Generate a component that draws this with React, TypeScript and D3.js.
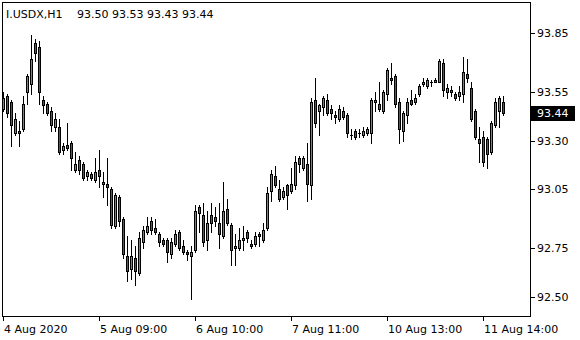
import React from "react";
import * as d3 from "d3";

const symbolTitle = "I.USDX,H1";
const ohlcTitle = "93.50 93.53 93.43 93.44";

const opens = [
  93.46, 93.53, 93.50, 93.34, 93.35, 93.36, 93.55, 93.59, 93.80, 93.78,
  93.51, 93.49, 93.45, 93.37, 93.37, 93.25, 93.28, 93.29, 93.15, 93.20,
  93.18, 93.12, 93.13, 93.10, 93.15, 93.08, 93.08, 93.05, 92.86, 93.01,
  92.90, 92.71, 92.64, 92.70, 92.62, 92.78, 92.83, 92.89, 92.85, 92.82,
  92.79, 92.79, 92.72, 92.77, 92.83, 92.76, 92.73, 92.71, 92.74, 92.96,
  92.92, 92.79, 92.92, 92.91, 92.88, 92.81, 92.95, 92.87, 92.75, 92.75,
  92.79, 92.83, 92.77, 92.77, 92.82, 92.79, 92.85, 93.04, 93.12, 93.05,
  93.01, 93.07, 93.04, 93.07, 93.21, 93.16, 93.18, 93.07, 93.51, 93.45,
  93.47, 93.51, 93.46, 93.43, 93.41, 93.45, 93.43, 93.33, 93.35, 93.34,
  93.33, 93.34, 93.34, 93.50, 93.49, 93.45, 93.54, 93.62, 93.63, 93.50,
  93.35, 93.43, 93.51, 93.50, 93.54, 93.59, 93.58, 93.60, 93.60, 93.60,
  93.70, 93.55, 93.56, 93.54, 93.53, 93.54, 93.64, 93.57, 93.45, 93.31,
  93.32, 93.31, 93.24, 93.38, 93.45, 93.50,
];
const highs = [
  93.55, 93.54, 93.51, 93.44, 93.40, 93.53, 93.64, 93.84, 93.82, 93.81,
  93.53, 93.50, 93.47, 93.44, 93.41, 93.29, 93.39, 93.30, 93.24, 93.22,
  93.19, 93.15, 93.14, 93.21, 93.25, 93.14, 93.21, 93.06, 93.03, 93.02,
  92.91, 92.81, 92.79, 92.76, 92.83, 92.86, 92.91, 92.91, 92.90, 92.83,
  92.80, 92.80, 92.80, 92.84, 92.84, 92.79, 92.74, 92.76, 92.97, 92.97,
  92.98, 92.94, 92.98, 92.96, 92.98, 93.09, 93.00, 92.88, 92.82, 92.85,
  92.86, 92.84, 92.79, 92.83, 92.83, 92.88, 93.06, 93.15, 93.17, 93.10,
  93.06, 93.08, 93.16, 93.22, 93.22, 93.22, 93.29, 93.52, 93.62, 93.49,
  93.53, 93.54, 93.48, 93.45, 93.48, 93.47, 93.44, 93.36, 93.36, 93.36,
  93.37, 93.37, 93.52, 93.55, 93.60, 93.56, 93.67, 93.70, 93.64, 93.52,
  93.45, 93.52, 93.56, 93.54, 93.59, 93.62, 93.62, 93.61, 93.62, 93.72,
  93.72, 93.59, 93.58, 93.55, 93.58, 93.73, 93.72, 93.60, 93.46, 93.37,
  93.35, 93.32, 93.40, 93.52, 93.53, 93.53,
];
const lows = [
  93.45, 93.42, 93.27, 93.33, 93.27, 93.35, 93.49, 93.54, 93.71, 93.49,
  93.44, 93.43, 93.35, 93.35, 93.23, 93.23, 93.25, 93.15, 93.14, 93.13,
  93.10, 93.10, 93.10, 93.09, 93.06, 93.01, 92.97, 92.85, 92.85, 92.86,
  92.70, 92.58, 92.59, 92.56, 92.61, 92.75, 92.82, 92.82, 92.82, 92.76,
  92.76, 92.68, 92.70, 92.76, 92.74, 92.72, 92.69, 92.49, 92.73, 92.83,
  92.76, 92.74, 92.83, 92.86, 92.75, 92.80, 92.87, 92.66, 92.66, 92.74,
  92.74, 92.78, 92.75, 92.76, 92.76, 92.78, 92.84, 92.99, 93.06, 92.99,
  93.00, 92.95, 93.03, 93.05, 93.14, 93.15, 92.99, 93.00, 93.37, 93.33,
  93.43, 93.43, 93.41, 93.39, 93.40, 93.41, 93.32, 93.31, 93.31, 93.32,
  93.32, 93.33, 93.29, 93.45, 93.45, 93.44, 93.51, 93.59, 93.47, 93.29,
  93.30, 93.39, 93.48, 93.49, 93.53, 93.58, 93.57, 93.58, 93.60, 93.60,
  93.53, 93.52, 93.53, 93.51, 93.51, 93.50, 93.60, 93.40, 93.31, 93.19,
  93.17, 93.16, 93.23, 93.37, 93.37, 93.43,
];
const closes = [
  93.52, 93.44, 93.38, 93.41, 93.34, 93.49, 93.63, 93.72, 93.75, 93.55,
  93.48, 93.44, 93.38, 93.41, 93.24, 93.27, 93.26, 93.21, 93.18, 93.15,
  93.11, 93.14, 93.11, 93.14, 93.12, 93.09, 93.06, 92.87, 93.02, 92.89,
  92.72, 92.63, 92.71, 92.63, 92.80, 92.84, 92.86, 92.84, 92.83, 92.78,
  92.77, 92.73, 92.78, 92.82, 92.75, 92.73, 92.72, 92.73, 92.94, 92.93,
  92.78, 92.88, 92.88, 92.89, 92.82, 92.94, 92.88, 92.74, 92.76, 92.79,
  92.80, 92.80, 92.76, 92.81, 92.81, 92.84, 93.03, 93.13, 93.07, 93.00,
  93.04, 93.02, 93.08, 93.19, 93.18, 93.21, 93.08, 93.50, 93.39, 93.48,
  93.52, 93.44, 93.44, 93.42, 93.46, 93.42, 93.34, 93.33, 93.32, 93.34,
  93.35, 93.36, 93.51, 93.51, 93.46, 93.55, 93.66, 93.61, 93.49, 93.36,
  93.44, 93.50, 93.49, 93.52, 93.58, 93.60, 93.61, 93.60, 93.61, 93.71,
  93.56, 93.57, 93.55, 93.52, 93.55, 93.65, 93.62, 93.41, 93.32, 93.29,
  93.19, 93.23, 93.39, 93.50, 93.52, 93.44,
];

const xTickBars = [0, 24, 48, 72, 96, 120];
const xTickLabels = ["4 Aug 2020", "5 Aug 09:00", "6 Aug 10:00", "7 Aug 11:00", "10 Aug 13:00", "11 Aug 14:00"];
const yTickValues = [93.85, 93.55, 93.3, 93.05, 92.75, 92.5];
const lastPrice = 93.44;

const W = 580;
const H = 340;
const left = 2.5;
const right = 530.5;
const top = 2.5;
const bottom = 316.5;

const bull = "#2eb82e";
const bear = "#e01e1e";
const axisFont = "'DejaVu Sans', Verdana, sans-serif";

export default function App() {
  const x = d3.scaleLinear().domain([0, 131.75]).range([3, 530]);
  const y = d3.scaleLinear().domain([92.5, 93.85]).range([296.7, 33.3]);

  const candles = opens.map((o, i) => {
    const c = closes[i];
    const cx = Math.round(x(i));
    const yH = Math.round(y(highs[i]));
    const yL = Math.round(y(lows[i]));
    const yTop = Math.round(y(Math.max(o, c)));
    const yBot = Math.round(y(Math.min(o, c)));
    const up = c > o;
    return (
      <g key={i}>
        <line x1={cx + 0.5} x2={cx + 0.5} y1={yH} y2={yL + 1} stroke="#000" strokeWidth={1} />
        {yBot - yTop >= 1 ? (
          <rect
            x={cx - 0.5}
            y={yTop + 0.5}
            width={2}
            height={yBot - yTop}
            fill={up ? bull : bear}
            stroke="#000"
            strokeWidth={1}
          />
        ) : (
          <line x1={cx - 1} x2={cx + 2} y1={yTop + 0.5} y2={yTop + 0.5} stroke="#000" strokeWidth={1} />
        )}
      </g>
    );
  });

  const lastY = Math.round(y(lastPrice));

  return (
    <svg
      width={W}
      height={H}
      style={{ position: "absolute", left: 0, top: 0, background: "#fff" }}
      shapeRendering="crispEdges"
    >
      <rect x={0} y={0} width={W} height={H} fill="#fff" />
      <text x={6} y={18} fontFamily={axisFont} fontSize={11} fill="#000">
        {symbolTitle}
      </text>
      <text x={77} y={18} fontFamily={axisFont} fontSize={11} fill="#000">
        {ohlcTitle}
      </text>
      {candles}
      <rect x={left} y={top} width={right - left} height={bottom - top} fill="none" stroke="#000" strokeWidth={1} />
      {yTickValues.map((v) => {
        const ty = Math.round(y(v)) + 0.5;
        return (
          <g key={v}>
            <line x1={right} x2={right + 4} y1={ty} y2={ty} stroke="#000" />
            <text x={537} y={ty} dy="0.36em" fontFamily={axisFont} fontSize={11} fill="#000">
              {d3.format(".2f")(v)}
            </text>
          </g>
        );
      })}
      <rect x={531} y={lastY - 7} width={44} height={15} fill="#000" />
      <text x={537} y={lastY + 0.5} dy="0.36em" fontFamily={axisFont} fontSize={11} fill="#fff">
        {d3.format(".2f")(lastPrice)}
      </text>
      {xTickBars.map((b, k) => {
        const tx = Math.round(x(b)) + 0.5;
        return (
          <g key={b}>
            <line x1={tx} x2={tx} y1={bottom} y2={bottom + 4} stroke="#000" />
            <text x={tx + 0.5} y={333} fontFamily={axisFont} fontSize={11} fill="#000">
              {xTickLabels[k]}
            </text>
          </g>
        );
      })}
    </svg>
  );
}
